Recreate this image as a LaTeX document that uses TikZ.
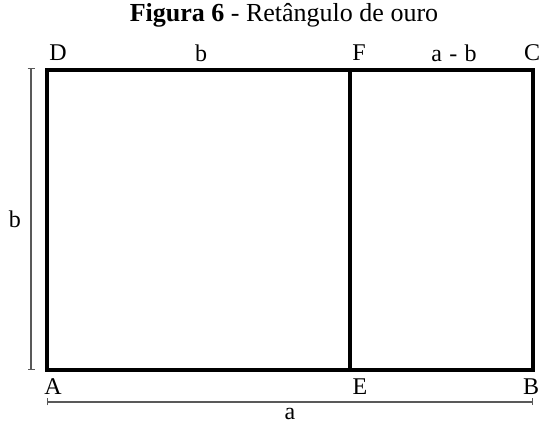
\documentclass[tikz,border=0pt]{standalone}
\usepackage{fontspec}
\setmainfont{Liberation Serif}
\usetikzlibrary{arrows.meta}

\tikzset{
  lado/.style={line width=3.8pt,line cap=rect},
  cota/.style={draw=black!65,line width=1.1pt,{|[width=7pt]}-{|[width=7pt]}},
  rotulo/.style={font=\fontsize{24}{26}\selectfont,inner sep=0pt},
}

\begin{document}
\begin{tikzpicture}[x=1pt,y=-1pt]
      \useasboundingbox (0,0) rectangle (541,427);
      % vertices do retangulo
      \coordinate (A) at (47,370);
      \coordinate (B) at (533,370);
      \coordinate (C) at (533,70);
      \coordinate (D) at (47,70);
      \coordinate (E) at (350,370);
      \coordinate (F) at (350,70);
      \draw[lado] (A) -- (B) -- (C) -- (D) -- cycle;
      \draw[lado] (E) -- (F);
      % titulo
      \node[font=\fontsize{26}{28}\selectfont] (titulo) at (284,15)
        {\textbf{Figura 6} - Retângulo de ouro};
      % letras
      \node[rotulo] (lD) at (58,53) {D};
      \node[rotulo] (lb) at (201,53) {b};
      \node[rotulo] (lF) at (359,53) {F};
      \node[rotulo] (lab) at (454,53) {a\hspace{0.3em}-\hspace{0.3em}b};
      \node[rotulo] (lC) at (532,53) {C};
      \node[rotulo] (lA) at (53,387) {A};
      \node[rotulo] (lE) at (360,387) {E};
      \node[rotulo] (lB) at (531,387) {B};
      % cotas
      \coordinate (cb1) at (31,68);
      \coordinate (cb2) at (31,370);
      \coordinate (ca1) at (47,402);
      \coordinate (ca2) at (533,402);
      \draw[cota] (cb1) -- (cb2);
      \draw[cota] (ca1) -- (ca2);
      \node[rotulo] (la) at (290,414) {a};
      \node[rotulo] (lbl) at (15,219) {b};
    \end{tikzpicture}
\end{document}
